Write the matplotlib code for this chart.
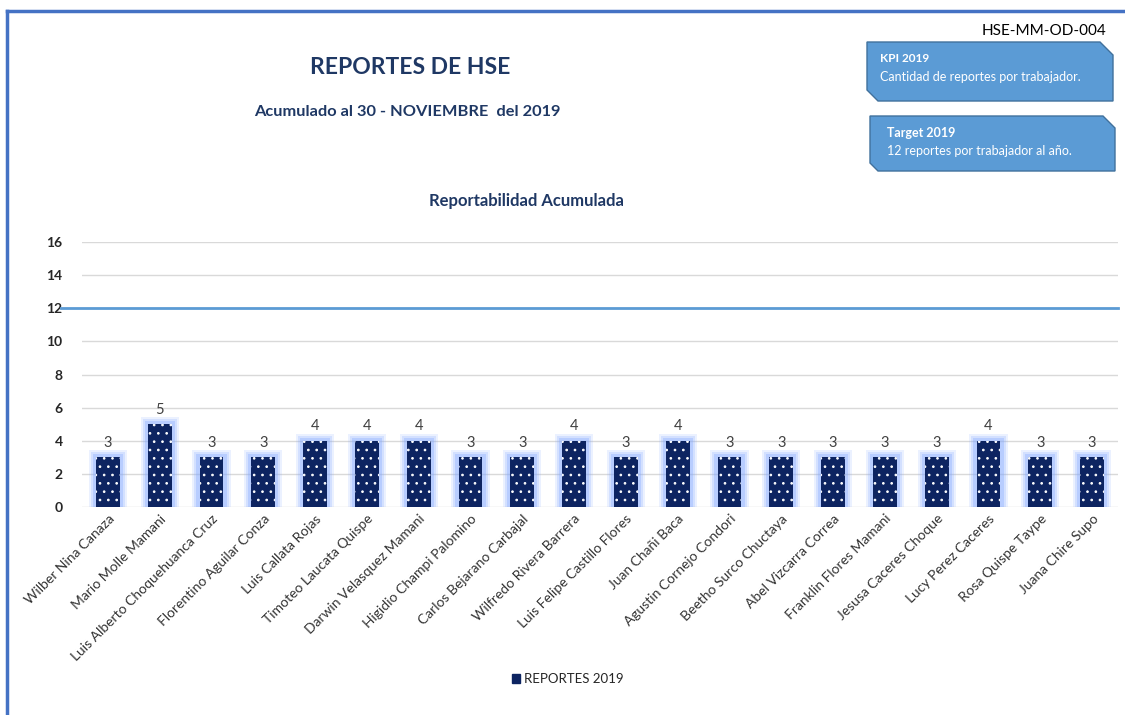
import numpy as np
import matplotlib.pyplot as plt
from matplotlib.patches import Polygon, Patch
from matplotlib.lines import Line2D

# data
workers = ['Wilber Nina Canaza', 'Mario Molle Mamani', 'Luis Alberto Choquehuanca Cruz',
           'Florentino Aguilar Conza', 'Luis Callata Rojas', 'Timoteo Laucata Quispe',
           'Darwin Velasquez Mamani', 'Higidio Champi Palomino', 'Carlos Bejarano Carbajal',
           'Wilfredo Rivera Barrera', 'Luis Felipe Castillo Flores', 'Juan Chañi Baca',
           'Agustin Cornejo Condori', 'Beetho Surco Chuctaya', 'Abel Vizcarra Correa',
           'Franklin Flores Mamani', 'Jesusa Caceres Choque', 'Lucy Perez Caceres',
           'Rosa Quispe Taype', 'Juana Chire Supo']
reportes = [3, 5, 3, 3, 4, 4, 4, 3, 3, 4, 3, 4, 3, 3, 3, 3, 3, 4, 3, 3]
target = 12
yticks = [0, 2, 4, 6, 8, 10, 12, 14, 16]

NAVY = '#0d2461'
TITLE = '#1f3864'
BLUE = '#5b9bd5'
W, H = 1125, 715

plt.rcParams['font.family'] = ['Lato', 'DejaVu Sans']
plt.rcParams['hatch.linewidth'] = 0.7

fig = plt.figure(figsize=(W / 100, H / 100), dpi=100)
fig.patch.set_facecolor('white')

def px(x, y):
    return (x / W, 1 - y / H)

ax = fig.add_axes([82 / W, 1 - 507 / H, (1118 - 82) / W, (507 - 242) / H])
x = np.arange(len(workers))
bw = 0.46

# glow behind bars
for k, a in [(0.28, 0.15), (0.20, 0.22), (0.12, 0.32)]:
    ax.bar(x, np.array(reportes) + k * 1.5, width=bw + k, color='#7fa6ff',
           alpha=a, linewidth=0, zorder=2)
ax.bar(x, reportes, width=bw, color=NAVY, edgecolor='white', linewidth=0,
       hatch='..', zorder=3)

for xi, v in zip(x, reportes):
    ax.text(xi, v + 0.45, str(v), ha='center', va='bottom', fontsize=10.5,
            color='#404040', zorder=4)

ax.axhline(target, xmin=-0.02, xmax=1.0, color=BLUE, lw=2, zorder=3, clip_on=False)

ax.set_xlim(-0.5, len(workers) - 0.5)
ax.set_ylim(0, 16)
ax.set_yticks(yticks)
ax.set_yticklabels([str(t) for t in yticks], fontsize=10, color='#262626',
                   fontweight='bold')
ax.grid(axis='y', color='#d9d9d9', lw=1, zorder=0)
ax.set_axisbelow(True)
ax.tick_params(axis='both', length=0, pad=14)
ax.tick_params(axis='x', pad=4)
ax.set_xticks(x)
ax.set_xticklabels(workers, rotation=45, ha='right', rotation_mode='anchor',
                   fontsize=10, color='#333333')
for s in ax.spines.values():
    s.set_visible(False)

# border
fig.add_artist(Line2D([7 / W, 1], [1 - 11 / H, 1 - 11 / H], color='#4472c4', lw=2.5))
fig.add_artist(Line2D([7 / W, 7 / W], [1 - 11 / H, 0], color='#4472c4', lw=2.5))

# titles
fig.text(*px(410, 68), 'REPORTES DE HSE', ha='center', va='center', fontsize=16.5,
         fontweight='bold', color=TITLE)
fig.text(*px(407, 112), 'Acumulado al 30 - NOVIEMBRE  del 2019', ha='center',
         va='center', fontsize=11.8, fontweight='bold', color=TITLE)
fig.text(*px(526, 201), 'Reportabilidad Acumulada', ha='center', va='center',
         fontsize=12, fontweight='bold', color=TITLE)
fig.text(*px(1106, 31), 'HSE-MM-OD-004', ha='right', va='center', fontsize=11,
         color='black')

# info boxes
box1 = [(867, 42), (1100, 42), (1113, 55), (1113, 101), (878, 101), (867, 90)]
box2 = [(870, 116), (1103, 116), (1115, 128), (1115, 171), (878, 171), (870, 163)]
for pts in (box1, box2):
    fig.add_artist(Polygon([px(a, b) for a, b in pts], closed=True,
                           facecolor=BLUE, edgecolor='#41719c', lw=1))
fig.text(*px(880, 59), 'KPI 2019', fontsize=8.5, fontweight='bold', color='white',
         va='center')
fig.text(*px(880, 77), 'Cantidad de reportes por trabajador.', fontsize=9,
         color='white', va='center')
fig.text(*px(887, 133), 'Target 2019', fontsize=9, fontweight='bold',
         color='white', va='center')
fig.text(*px(887, 151), '12 reportes por trabajador al año.', fontsize=9,
         color='white', va='center')

# legend
fig.legend(handles=[Patch(facecolor=NAVY, edgecolor=NAVY)], labels=['REPORTES 2019'],
           loc='center', bbox_to_anchor=px(568, 679), frameon=False, fontsize=9.5,
           handlelength=0.6, handleheight=0.6, handletextpad=0.3,
           labelcolor='#262626')

fig.savefig('out.png', dpi=100)
